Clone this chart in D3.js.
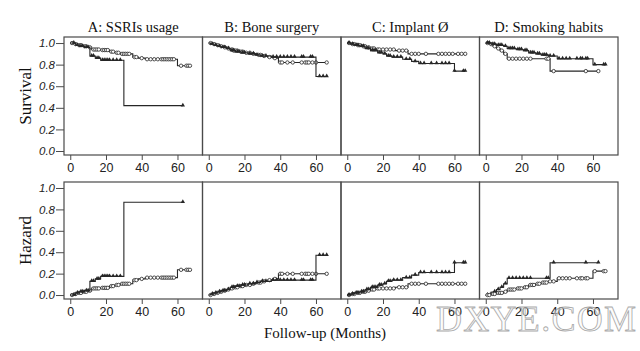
<!DOCTYPE html>
<html><head><meta charset="utf-8">
<script src="https://cdn.jsdelivr.net/npm/d3@7"></script>
<style>html,body{margin:0;padding:0;background:#fff;}svg{display:block;}</style>
</head><body>
<svg id="chart" width="640" height="351"></svg>
<script>
const panelTitles = ["A: SSRIs usage", "B: Bone surgery", "C: Implant Ø", "D: Smoking habits"];
const xTicks = [0, 20, 40, 60];
const yTicks = [0.0, 0.2, 0.4, 0.6, 0.8, 1.0];
const rowLabels = ["Survival", "Hazard"];
const xAxisTitle = "Follow-up (Months)";

// Kaplan–Meier step points [month, survival], end of follow-up, censored months
const circleSteps = [
  [[0,1],[2,0.99],[4,0.98],[7,0.97],[10,0.96],[12,0.94],[17,0.935],[22,0.92],[25,0.91],[28,0.90],[35,0.87],[38,0.86],[42,0.85],[60,0.79]],
  [[0,1],[2,0.99],[4,0.98],[6,0.97],[8,0.96],[10,0.95],[12,0.94],[14,0.93],[17,0.92],[20,0.91],[24,0.90],[27,0.89],[30,0.88],[33,0.87],[36,0.86],[39,0.82]],
  [[0,1],[2,0.99],[5,0.98],[8,0.97],[11,0.96],[13,0.95],[16,0.94],[27,0.93],[34,0.90]],
  [[0,1],[2,0.99],[4,0.97],[6,0.95],[8,0.93],[10,0.90],[12,0.855],[36,0.74]]
];
const circleEnd = [67, 66, 66, 63];
const circleCensor = [
  [1,3,5,6,8,9,11,13,14,15,16,18,19,20,21,23,24,26,27,29,30,31,32,33,36,37,40,43,45,47,49,51,52,53,54,55,56,57,58,62,65,66,67],
  [1,3,5,7,9,11,13,14,15,16,18,19,21,23,25,28,29,31,34,37,40,41,44,47,52,54,55,56,58,60,66],
  [1,3,4,6,7,9,10,12,14,15,17,18,20,22,24,26,29,31,33,36,38,40,44,51,53,55,57,59,62,64,66],
  [1,3,5,7,9,11,13,15,17,19,21,23,25,34,35,38,56,63]
];
const triangleSteps = [
  [[0,1],[3,0.98],[5,0.97],[8,0.96],[11,0.88],[14,0.86],[17,0.84],[30,0.42]],
  [[0,1],[1,0.99],[3,0.98],[5,0.97],[7,0.96],[10,0.95],[12,0.93],[15,0.92],[18,0.91],[22,0.90],[26,0.89],[29,0.88],[35,0.87],[60,0.69]],
  [[0,1],[2,0.99],[4,0.98],[7,0.97],[10,0.95],[13,0.93],[17,0.91],[20,0.90],[22,0.88],[25,0.87],[31,0.85],[36,0.83],[40,0.81],[60,0.74]],
  [[0,1],[3,0.99],[6,0.98],[10,0.97],[12,0.95],[17,0.94],[21,0.93],[24,0.91],[28,0.90],[31,0.89],[35,0.88],[40,0.855],[60,0.80]]
];
const triangleEnd = [63, 66, 66, 67];
const triangleCensor = [
  [2,4,6,7,9,10,12,13,15,16,18,19,20,21,22,24,26,28,63],
  [2,4,6,8,9,11,13,14,16,17,19,20,23,25,27,30,32,36,38,40,42,44,46,48,52,53,57,58,62,64,66],
  [1,3,5,6,8,9,11,12,14,15,16,18,19,21,23,24,26,28,30,33,35,38,41,43,47,50,53,55,57,60,65,66],
  [1,2,4,5,7,8,9,11,13,14,15,16,18,19,20,22,23,25,26,27,29,30,32,33,34,36,38,41,43,45,47,51,53,54,56,57,61,66,67]
];
// marker shapes as printed in the hazard row (panel D swaps them in the original figure)
const hazardShapes = [["circle","triangle"],["circle","triangle"],["circle","triangle"],["triangle","circle"]];

const svg = d3.select("#chart");
const panelLeft = 64, panelW = 138.5;
const rows = [{top: 37, bottom: 155}, {top: 182, bottom: 299}];
const ink = "#262626", frameCol = "#4a4a4a";
const sans = "'Liberation Sans', Arial, sans-serif";
const serif = "'Liberation Serif', 'Times New Roman', serif";

function survAt(steps, t) {
  let s = steps[0][1];
  for (const p of steps) if (p[0] <= t) s = p[1];
  return s;
}

rows.forEach((row, ri) => {
  const y = d3.scaleLinear().domain([-0.037, 1.056]).range([row.bottom, row.top]);
  const tf = ri === 0 ? (s => s) : (s => -Math.log(s));
  for (let pi = 0; pi < 4; pi++) {
    const x0 = panelLeft + pi * panelW;
    const x = d3.scaleLinear().domain([-3.5, 74]).range([x0, x0 + panelW]);
    const g = svg.append("g");
    g.append("rect").attr("x", x0).attr("y", row.top).attr("width", panelW).attr("height", row.bottom - row.top)
      .attr("fill", "none").attr("stroke", frameCol).attr("stroke-width", 1.2);
    const xa = g.append("g").attr("transform", `translate(0,${row.bottom})`)
      .call(d3.axisBottom(x).tickValues(xTicks).tickSize(5).tickSizeOuter(0).tickPadding(3));
    xa.select(".domain").remove();
    xa.selectAll("line").attr("stroke", frameCol);
    xa.selectAll("text").attr("font-family", sans).attr("font-size", 12.5).attr("fill", "#222");
    if (pi === 0) {
      const ya = g.append("g").attr("transform", `translate(${x0},0)`)
        .call(d3.axisLeft(y).tickValues(yTicks).tickSize(8).tickSizeOuter(0).tickPadding(1).tickFormat(d3.format(".1f")));
      ya.select(".domain").remove();
      ya.selectAll("line").attr("stroke", frameCol);
      ya.selectAll("text").attr("font-family", sans).attr("font-size", 11.5).attr("font-style", "italic").attr("fill", "#222");
    }
    if (ri === 0) {
      g.append("text").attr("x", x0 + panelW / 2).attr("y", 32).attr("text-anchor", "middle")
        .attr("font-family", serif).attr("font-size", 14.5).attr("fill", "#111").text(panelTitles[pi]);
    }
    const shapes = ri === 0 ? ["circle", "triangle"] : hazardShapes[pi];
    const groups = [
      {steps: circleSteps[pi], end: circleEnd[pi], censor: circleCensor[pi], shape: shapes[0]},
      {steps: triangleSteps[pi], end: triangleEnd[pi], censor: triangleCensor[pi], shape: shapes[1]}
    ];
    groups.forEach(gr => {
      const pts = gr.steps.map(p => [p[0], tf(p[1])]);
      pts.push([gr.end, tf(gr.steps[gr.steps.length - 1][1])]);
      const line = d3.line().x(d => x(d[0])).y(d => y(d[1])).curve(d3.curveStepAfter);
      g.append("path").attr("d", line(pts)).attr("fill", "none").attr("stroke", ink).attr("stroke-width", 1.1);
      const cens = gr.censor.map(t => [t, tf(survAt(gr.steps, t))]);
      if (gr.shape === "circle") {
        g.selectAll(null).data(cens).enter().append("circle")
          .attr("cx", d => x(d[0])).attr("cy", d => y(d[1])).attr("r", 1.7)
          .attr("fill", "#fff").attr("stroke", ink).attr("stroke-width", 0.8);
      } else {
        g.selectAll(null).data(cens).enter().append("path")
          .attr("d", d3.symbol(d3.symbolTriangle, 8))
          .attr("transform", d => `translate(${x(d[0])},${y(d[1]) - 0.5})`)
          .attr("fill", ink);
      }
    });
  }
  svg.append("text").attr("transform", `translate(31,${(row.top + row.bottom) / 2}) rotate(-90)`)
    .attr("text-anchor", "middle").attr("font-family", serif).attr("font-size", 17).attr("fill", "#111")
    .text(rowLabels[ri]);
});

svg.append("text").attr("x", 325).attr("y", 338).attr("text-anchor", "middle")
  .attr("font-family", serif).attr("font-size", 15).attr("fill", "#111").text(xAxisTitle);

// watermark
svg.append("text").attr("x", 436).attr("y", 331).attr("font-family", serif).attr("font-size", 36)
  .attr("textLength", 200).attr("fill", "#fafafa").attr("fill-opacity", 0.6).attr("stroke", "#9a9a9a").attr("stroke-width", 0.8)
  .attr("opacity", 0.85).text("DXYE.COM");
</script>
</body></html>
